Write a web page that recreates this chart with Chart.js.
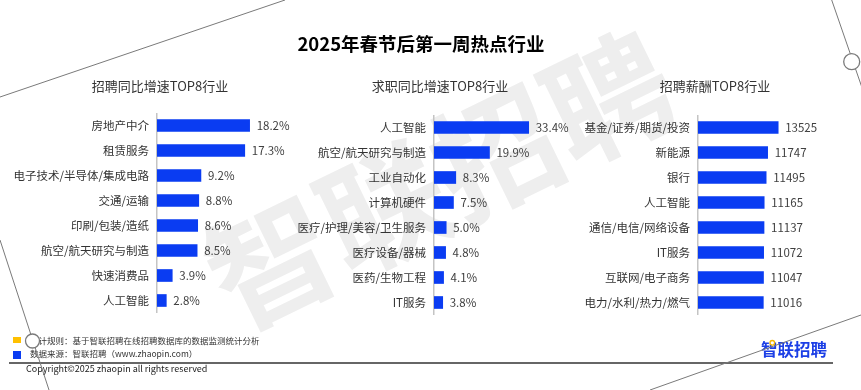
<!DOCTYPE html>
<html lang="zh">

<head>
    <meta charset="UTF-8">
    <title>2025年春节后第一周热点行业</title>
    <style>
        body {
            margin: 0;
            width: 861px;
            height: 390px;
            overflow: hidden;
            background: #fff;
            font-family: "Noto Sans CJK SC", sans-serif;
            position: relative;
        }

        .abs {
            position: absolute;
        }

        .title {
            left: 421px;
            top: 31px;
            transform: translateX(-50%);
            font-size: 18.5px;
            font-weight: bold;
            line-height: 24px;
            color: #000;
            white-space: nowrap;
        }

        .sub {
            top: 76px;
            transform: translateX(-50%);
            font-size: 13px;
            line-height: 20px;
            color: #333;
            white-space: nowrap;
        }

        .note {
            left: 30px;
            font-size: 8.5px;
            line-height: 12px;
            color: #333;
            white-space: nowrap;
        }

        .sq {
            width: 8px;
            left: 13px;
        }

        .logo {
            left: 761px;
            top: 338px;
            font-size: 16.5px;
            font-weight: bold;
            line-height: 22px;
            color: #1c3fe6;
            white-space: nowrap;
        }
    </style>
</head>

<body>
    <!-- Hintergrund mit Wasserzeichen -->
    <canvas id="bg" class="abs" width="861" height="390" style="left:0;top:0"></canvas>

    <div class="abs title">2025年春节后第一周热点行业</div>
    <div class="abs sub" style="left:160px">招聘同比增速TOP8行业</div>
    <div class="abs sub" style="left:440px">求职同比增速TOP8行业</div>
    <div class="abs sub" style="left:715px">招聘薪酬TOP8行业</div>

    <canvas id="hireChart" class="abs" width="290" height="200" style="left:0;top:113px"></canvas>
    <canvas id="seekChart" class="abs" width="290" height="200" style="left:290px;top:115px"></canvas>
    <canvas id="salaryChart" class="abs" width="281" height="200" style="left:580px;top:115px"></canvas>

    <!-- Fusszeile -->
    <div class="abs sq" style="top:337px;height:6px;background:#ffc000"></div>
    <div class="abs sq" style="top:351px;height:8px;background:#0a3cf2"></div>
    <div class="abs note" style="top:334px">统计规则：基于智联招聘在线招聘数据库的数据监测统计分析</div>
    <div class="abs note" style="top:347px">数据来源：智联招聘（www.zhaopin.com）</div>
    <div class="abs" style="left:9px;top:362px;width:824px;height:1.5px;background:#666"></div>
    <div class="abs note" style="left:26px;top:363px;font-size:9px;color:#222">Copyright©2025 zhaopin all rights reserved</div>
    <div class="abs logo">智联招聘</div>

    <!-- Deko-Linien -->
    <svg class="abs" width="861" height="390" style="left:0;top:0;pointer-events:none">
        <g stroke="#7a7a7a" stroke-width="1" fill="none">
            <line x1="0" y1="97" x2="285" y2="0" />
            <line x1="831.7" y1="0" x2="868" y2="105" />
            <line x1="0" y1="240" x2="49" y2="390" />
            <line x1="650" y1="390" x2="861" y2="315" />
        </g>
        <circle cx="851.7" cy="61.7" r="8" fill="#fff" stroke="#7a7a7a" stroke-width="1.3" />
        <circle cx="32.5" cy="341" r="7" fill="#fff" stroke="#7a7a7a" stroke-width="1.3" />
        <circle cx="772.3" cy="342.8" r="2.3" fill="#fff" stroke="#f5b800" stroke-width="1.3" />
    </svg>

    <script src="https://cdn.jsdelivr.net/npm/chart.js"></script>
    <script>
        // Daten
        const hireLabels = ['房地产中介', '租赁服务', '电子技术/半导体/集成电路', '交通/运输', '印刷/包装/造纸', '航空/航天研究与制造', '快速消费品', '人工智能'];
        const hireValues = [18.2, 17.3, 9.2, 8.8, 8.6, 8.5, 3.9, 2.8];

        const seekLabels = ['人工智能', '航空/航天研究与制造', '工业自动化', '计算机硬件', '医疗/护理/美容/卫生服务', '医疗设备/器械', '医药/生物工程', 'IT服务'];
        const seekValues = [33.4, 19.9, 8.3, 7.5, 5.0, 4.8, 4.1, 3.8];

        const salaryLabels = ['基金/证券/期货/投资', '新能源', '银行', '人工智能', '通信/电信/网络设备', 'IT服务', '互联网/电子商务', '电力/水利/热力/燃气'];
        const salaryValues = [13525, 11747, 11495, 11165, 11137, 11072, 11047, 11016];

        const barColor = '#0a3cf2';

        // Wasserzeichen
        var bg = document.getElementById('bg').getContext('2d');
        bg.save();
        bg.translate(440, 180);
        bg.rotate(-26 * Math.PI / 180);
        bg.font = 'bold 125px "Noto Sans CJK SC"';
        bg.fillStyle = '#eeeeee';
        bg.textAlign = 'center';
        bg.textBaseline = 'middle';
        bg.fillText('智联招聘', 0, 0);
        bg.restore();

        Chart.defaults.font.family = '"Noto Sans CJK SC", sans-serif';

        function labelPlugin(values, fmt) {
            return {
                id: 'valueLabels',
                afterDatasetsDraw(chart) {
                    var ctx = chart.ctx;
                    var meta = chart.getDatasetMeta(0);
                    ctx.save();
                    ctx.font = '11.5px "Noto Sans CJK SC"';
                    ctx.fillStyle = '#404040';
                    ctx.textBaseline = 'middle';
                    meta.data.forEach(function (bar, i) {
                        ctx.fillText(fmt(values[i]), bar.x + 7, bar.y + 0.5);
                    });
                    ctx.restore();
                }
            };
        }

        function makeChart(id, labels, values, axisWidth, min, max, fmt) {
            var ctx = document.getElementById(id).getContext('2d');
            return new Chart(ctx, {
                type: 'bar',
                data: {
                    labels: labels,
                    datasets: [{
                        data: values,
                        backgroundColor: barColor,
                        barThickness: 12
                    }]
                },
                options: {
                    indexAxis: 'y',
                    responsive: false,
                    animation: false,
                    layout: { padding: 0 },
                    plugins: {
                        legend: { display: false },
                        tooltip: { enabled: false }
                    },
                    scales: {
                        x: { display: false, min: min, max: max },
                        y: {
                            grid: { display: false, drawTicks: false },
                            border: { display: true, color: '#c4c4c4', width: 1.5 },
                            ticks: { color: '#333', padding: 8, font: { size: 11.5 }, autoSkip: false },
                            afterFit: function (scale) {
                                // feste Breite, kein Rand oben/unten
                                scale.width = axisWidth;
                                scale.paddingTop = 0;
                                scale.paddingBottom = 0;
                            }
                        }
                    }
                },
                plugins: [labelPlugin(values, fmt)]
            });
        }

        var pct = function (v) { return v.toFixed(1) + '%'; };
        var num = function (v) { return String(v); };

        makeChart('hireChart', hireLabels, hireValues, 157, 1.08, 25.66, pct);
        makeChart('seekChart', seekLabels, seekValues, 144, 0.8, 51.06, pct);
        makeChart('salaryChart', salaryLabels, salaryValues, 118, 0, 27490, num);
    </script>
</body>

</html>
